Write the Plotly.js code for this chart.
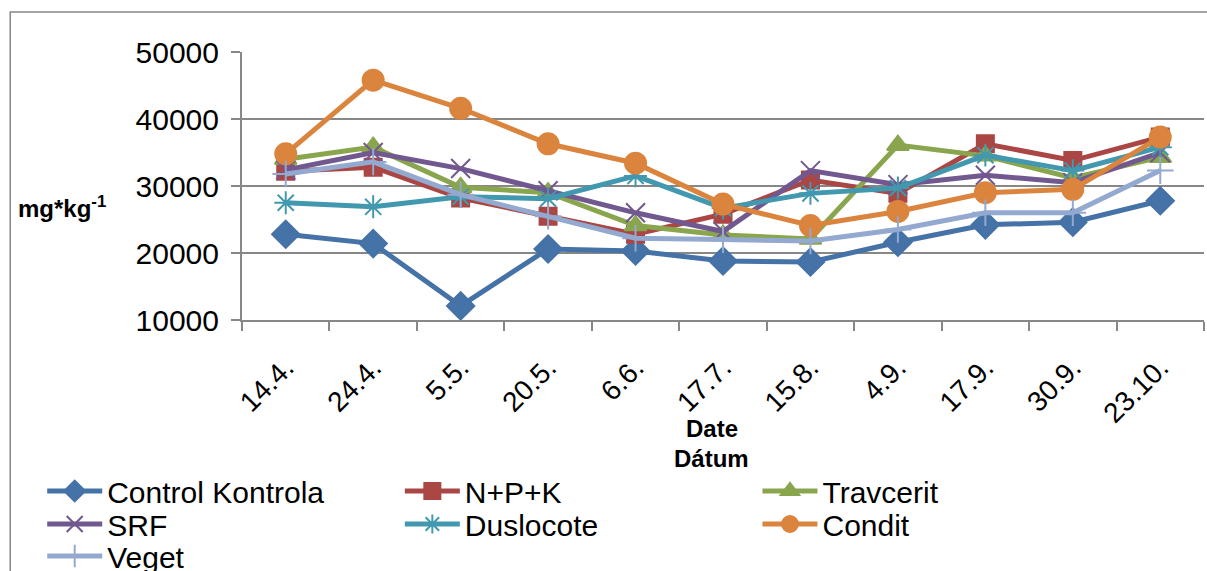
<!DOCTYPE html>
<html><head><meta charset="utf-8">
<script src="https://cdn.plot.ly/plotly-3.0.1.min.js"></script>
<style>html,body{margin:0;padding:0;background:#fff}#chart{width:1207px;height:571px}</style>
</head><body><div id="chart"></div>
<script>
const dates = ["14.4.","24.4.","5.5.","20.5.","6.6.","17.7.","15.8.","4.9.","17.9.","30.9.","23.10."];
const control   = [22800,21400,12100,20600,20300,18800,18650,21600,24200,24600,27800];
const npk       = [32200,32800,28200,25500,22800,25800,30900,28900,36300,33800,37300];
const travcerit = [34000,35800,29800,29000,24100,22700,22100,36100,34500,31200,34300];
const srf       = [32400,35000,32600,29300,26000,23200,32300,30200,31600,30500,35000];
const duslocote = [27500,26900,28400,28100,31500,26700,28900,29700,34600,32300,35800];
const condit    = [34800,45800,41600,36300,33400,27300,24100,26200,29000,29500,37300];
const veget     = [31800,33600,28700,25500,22200,22000,21800,23500,26000,26000,32300];
const seriesNames = ["Control Kontrola","N+P+K","Travcerit","SRF","Duslocote","Condit","Veget"];

const FONT = "Arial, 'Liberation Sans', sans-serif";
const styles = [
  {color:"#4572A7", symbol:"diamond", size:21},
  {color:"#AA4643", symbol:"square", size:17},
  {color:"#89A54E", symbol:"triangle-up", size:19},
  {color:"#71588F", symbol:"x-thin-open", size:19},
  {color:"#4198AF", symbol:"asterisk-open", size:19},
  {color:"#DB843D", symbol:"circle", size:21},
  {color:"#93A9CF", symbol:"cross-thin-open", size:19}
];
const values = [control, npk, travcerit, srf, duslocote, condit, veget];

// legend placement (3 columns, row-wise)
const colX = [42, 400, 758];
const rowY = [491, 524, 556];

const traces = values.map((v, i) => ({
  type:"scatter", mode:"lines+markers", name:seriesNames[i], x:dates, y:v,
  legend: i === 0 ? "legend" : "legend" + (i + 1),
  line:{color:styles[i].color, width:5},
  marker:{symbol:styles[i].symbol, size:styles[i].size, color:styles[i].color,
          line:{color:styles[i].color, width:2}}
}));

const layout = {
  width:1207, height:571,
  margin:{l:242, r:3, t:52, b:251},
  paper_bgcolor:"#fff", plot_bgcolor:"#fff",
  font:{family:FONT, color:"#000"},
  showlegend:true,
  xaxis:{type:"category", range:[-0.5,10.5], tickangle:-45, tickson:"boundaries",
    ticks:"outside", ticklen:9, tickwidth:2, tickcolor:"#878787",
    ticklabelstandoff:18,
    showline:true, linecolor:"#878787", linewidth:2, showgrid:false,
    tickfont:{size:28, family:FONT}},
  yaxis:{range:[10000,50000], dtick:10000, tickformat:"d",
    ticks:"outside", ticklen:9, tickwidth:2, tickcolor:"#878787",
    ticklabelstandoff:6,
    showline:true, linecolor:"#878787", linewidth:2,
    showgrid:true, gridcolor:"#878787", gridwidth:2, zeroline:false,
    tickfont:{size:30, family:FONT}},
  annotations:[
    {text:"<b>Date</b>", xref:"paper", yref:"paper", x:(712-242)/963, y:(320-428)/268,
     showarrow:false, font:{size:24}, xanchor:"center", yanchor:"middle"},
    {text:"<b>Dátum</b>", xref:"paper", yref:"paper", x:(712-242)/963, y:(320-458)/268,
     showarrow:false, font:{size:24}, xanchor:"center", yanchor:"middle"},
    {text:"<b>mg*kg<sup>-1</sup></b>", xref:"paper", yref:"paper", x:(16-242)/963, y:(320-207)/268,
     showarrow:false, font:{size:24}, xanchor:"left", yanchor:"middle"}
  ],
  shapes:[
    {type:"rect", xref:"paper", yref:"paper", x0:(10-242)/963, x1:(1215-242)/963,
     y0:(320-590)/268, y1:(320-12)/268, line:{color:"#878787", width:1.5}, layer:"below"}
  ]
};
values.forEach((v, i) => {
  const key = i === 0 ? "legend" : "legend" + (i + 1);
  const col = i % 3, row = Math.floor(i / 3);
  layout[key] = {
    orientation:"v", xref:"paper", yref:"container",
    x:(colX[col] - 242) / 963, xanchor:"left",
    y:1 - rowY[row] / 571, yanchor:"middle",
    bgcolor:"rgba(0,0,0,0)", borderwidth:0, itemwidth:55,
    font:{size:30, family:FONT}
  };
});
Plotly.newPlot("chart", traces, layout, {displayModeBar:false, staticPlot:true});
</script></body></html>
